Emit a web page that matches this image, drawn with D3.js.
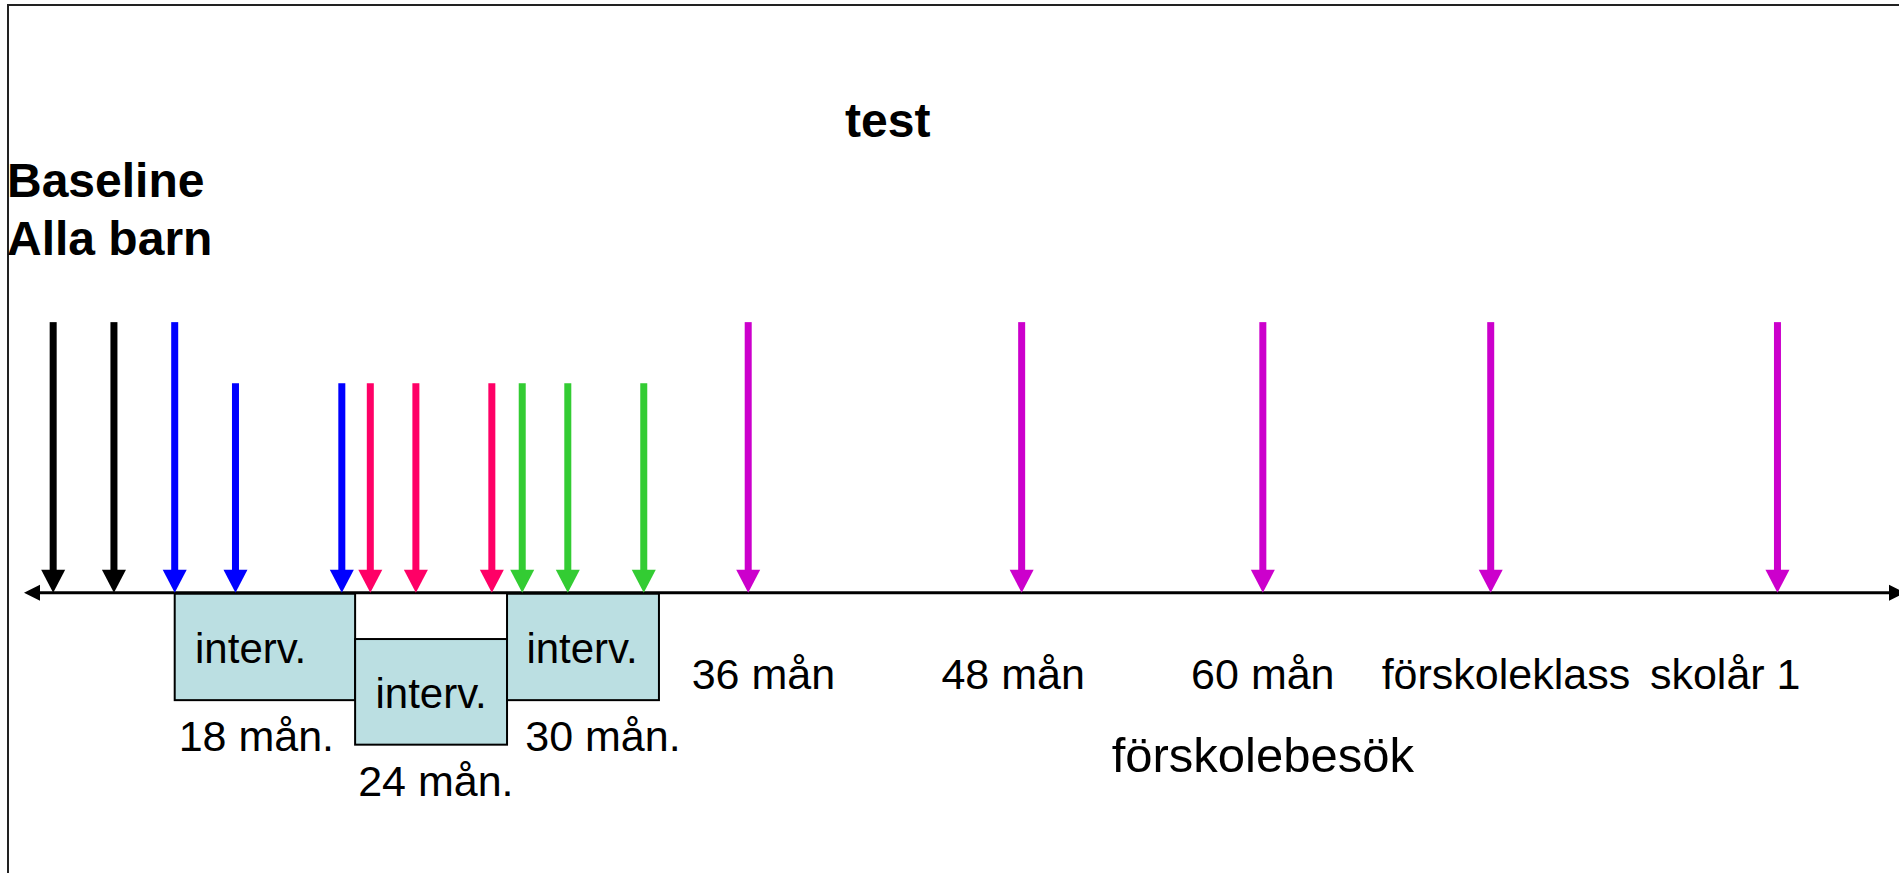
<!DOCTYPE html>
<html>
<head>
<meta charset="utf-8">
<style>
  body { margin: 0; background: #fff; }
  text { font-family: Arial, "Liberation Sans", sans-serif; }
</style>
</head>
<body>

<script src="https://d3js.org/d3.v7.min.js"></script>
<script>

const width = 1899;
const height = 873;

// timeline in percent of the page, arrows pointing down at the axis
const arrowPos   = [2.8, 6.0, 9.2, 12.4, 18.0, 19.5, 21.9, 25.9, 27.5, 29.9, 33.9, 39.4, 53.8, 66.5, 78.5, 93.6];
const arrowGroup = ['base', 'base', 'g18', 'g18', 'g18', 'g24', 'g24', 'g24', 'g30', 'g30', 'g30',
                    'visit', 'visit', 'visit', 'visit', 'visit'];
const arrowLong  = [1, 1, 1, 0, 0, 0, 0, 0, 0, 0, 0, 1, 1, 1, 1, 1];

const groupColor = {base: '#000000', g18: '#0000ff', g24: '#ff0066', g30: '#33cc33', visit: '#cc00cc'};

// intervention boxes: start, end (x) and top, bottom (y)
const boxStart  = [9.2, 18.7, 26.7];
const boxEnd    = [18.7, 26.7, 34.7];
const boxTop    = [68.0, 73.2, 68.0];
const boxBottom = [80.2, 85.3, 80.2];
const boxLabel  = ['interv.', 'interv.', 'interv.'];
const boxLabelX = [13.2, 22.7, 30.65];

// age labels under the boxes
const ageLabels = ['18 mån.', '24 mån.', '30 mån.'];
const ageX      = [13.5, 22.95, 31.75];
const ageY      = [86.0, 91.2, 86.0];

// visit labels under the magenta arrows
const visitLabels = ['36 mån', '48 mån', '60 mån', 'förskoleklass', 'skolår 1'];
const visitX      = [40.2, 53.35, 66.5, 79.3, 90.85];

const x = d3.scaleLinear().domain([0, 100]).range([0, width]);
const y = d3.scaleLinear().domain([0, 100]).range([0, height]);

const axisY = 67.9;
const longTop = 36.9;
const shortTop = 43.9;

const svg = d3.select('body')
              .append('svg')
              .attr('width', width)
              .attr('height', height);

// frame
svg.append('rect')
   .attr('x', 8).attr('y', 5)
   .attr('width', width + 20).attr('height', height + 20)
   .attr('fill', 'none')
   .attr('stroke', '#222')
   .attr('stroke-width', 2);

// title and baseline text
svg.append('text')
   .attr('x', x(46.75)).attr('y', 137)
   .attr('text-anchor', 'middle')
   .attr('font-size', 48).attr('font-weight', 'bold')
   .text('test');

svg.append('text')
   .attr('x', 7).attr('y', 197)
   .attr('font-size', 48).attr('font-weight', 'bold')
   .text('Baseline');

svg.append('text')
   .attr('x', 7).attr('y', 255)
   .attr('font-size', 48).attr('font-weight', 'bold')
   .text('Alla barn');

// boxes
const boxes = boxStart.map((s, i) => ({s, e: boxEnd[i], t: boxTop[i], b: boxBottom[i], label: boxLabel[i], lx: boxLabelX[i]}));

svg.selectAll('rect.box')
   .data(boxes)
   .enter()
   .append('rect')
   .attr('class', 'box')
   .attr('x', d => x(d.s))
   .attr('y', d => y(d.t))
   .attr('width', d => x(d.e) - x(d.s))
   .attr('height', d => y(d.b) - y(d.t))
   .attr('fill', '#bbdfe2')
   .attr('stroke', '#000')
   .attr('stroke-width', 2);

svg.selectAll('text.box')
   .data(boxes)
   .enter()
   .append('text')
   .attr('class', 'box')
   .attr('x', d => x(d.lx))
   .attr('y', d => y(d.t) + 69)
   .attr('text-anchor', 'middle')
   .attr('font-size', 42)
   .text(d => d.label);

// axis line with arrow heads at both ends
const ay = y(axisY);
svg.append('line')
   .attr('x1', 30).attr('y1', ay)
   .attr('x2', width - 5).attr('y2', ay)
   .attr('stroke', '#000')
   .attr('stroke-width', 3);

svg.append('path')
   .attr('d', `M24,${ay} L40,${ay - 8} L40,${ay + 8} Z`)
   .attr('fill', '#000');

svg.append('path')
   .attr('d', `M${width + 6},${ay} L${width - 10},${ay - 8} L${width - 10},${ay + 8} Z`)
   .attr('fill', '#000');

// arrows
const arrows = arrowPos.map((p, i) => ({p, color: groupColor[arrowGroup[i]], top: arrowLong[i] ? longTop : shortTop}));

const arrow = svg.selectAll('g.arrow')
                 .data(arrows)
                 .enter()
                 .append('g')
                 .attr('class', 'arrow');

arrow.append('rect')
     .attr('x', d => x(d.p) - 3.5)
     .attr('y', d => y(d.top))
     .attr('width', 7)
     .attr('height', d => ay - 22 - y(d.top))
     .attr('fill', d => d.color);

arrow.append('path')
     .attr('d', d => `M${x(d.p) - 12},${ay - 23} L${x(d.p) + 12},${ay - 23} L${x(d.p)},${ay} Z`)
     .attr('fill', d => d.color);

// labels
svg.selectAll('text.age')
   .data(ageLabels)
   .enter()
   .append('text')
   .attr('class', 'age')
   .attr('x', (d, i) => x(ageX[i]))
   .attr('y', (d, i) => y(ageY[i]))
   .attr('text-anchor', 'middle')
   .attr('font-size', 43)
   .text(d => d);

svg.selectAll('text.visit')
   .data(visitLabels)
   .enter()
   .append('text')
   .attr('class', 'visit')
   .attr('x', (d, i) => x(visitX[i]))
   .attr('y', y(78.9))
   .attr('text-anchor', 'middle')
   .attr('font-size', 43)
   .text(d => d);

svg.append('text')
   .attr('x', x(66.5)).attr('y', y(88.4))
   .attr('text-anchor', 'middle')
   .attr('font-size', 49)
   .text('förskolebesök');

</script>
</body>
</html>
